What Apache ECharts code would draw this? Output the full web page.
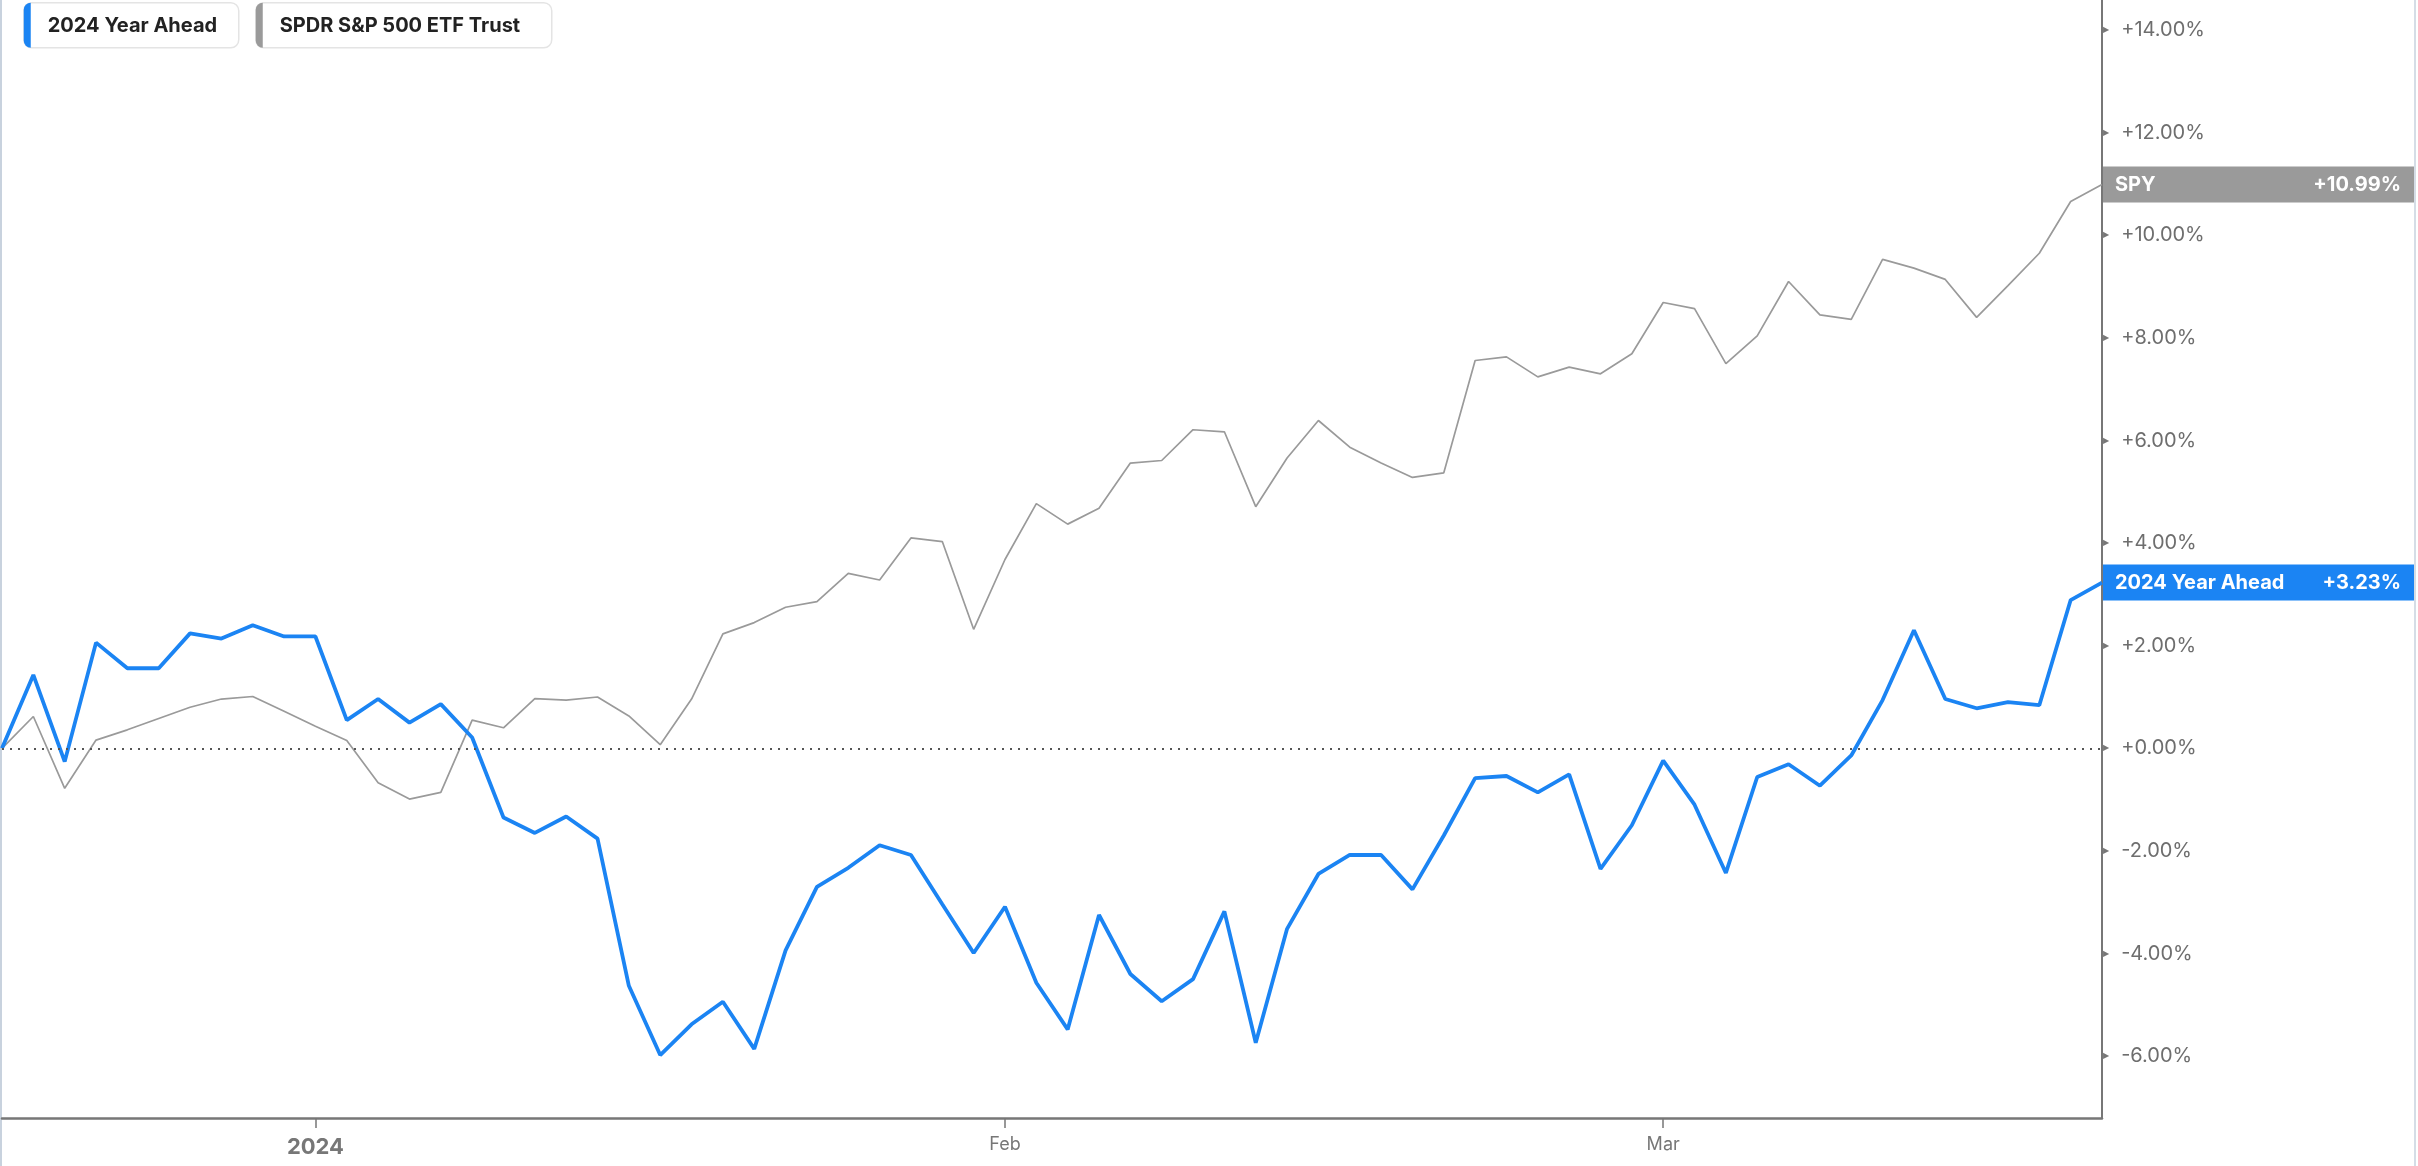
<!DOCTYPE html>
<html>
<head>
<meta charset="utf-8">
<script src="https://cdn.jsdelivr.net/npm/echarts@6/dist/echarts.min.js"></script>
<style>
  html, body { margin: 0; padding: 0; background: #fff; }
  #chart { width: 2418px; height: 1166px; }
</style>
</head>
<body>
<div id="chart"></div>
<script>
// ---- data ----
const dates = [
  '2023-12-18','2023-12-19','2023-12-20','2023-12-21','2023-12-22','2023-12-25','2023-12-26','2023-12-27','2023-12-28','2023-12-29',
  '2024-01-01','2024-01-02','2024-01-03','2024-01-04','2024-01-05','2024-01-08','2024-01-09','2024-01-10','2024-01-11','2024-01-12',
  '2024-01-16','2024-01-17','2024-01-18','2024-01-19','2024-01-22','2024-01-23','2024-01-24','2024-01-25','2024-01-26','2024-01-29',
  '2024-01-30','2024-01-31',
  '2024-02-01','2024-02-02','2024-02-05','2024-02-06','2024-02-07','2024-02-08','2024-02-09','2024-02-12','2024-02-13','2024-02-14',
  '2024-02-15','2024-02-16','2024-02-19','2024-02-20','2024-02-21','2024-02-22','2024-02-23','2024-02-26','2024-02-27','2024-02-28',
  '2024-02-29',
  '2024-03-01','2024-03-04','2024-03-05','2024-03-06','2024-03-07','2024-03-08','2024-03-11','2024-03-12','2024-03-13','2024-03-14',
  '2024-03-15','2024-03-18','2024-03-19','2024-03-20','2024-03-21'
];
const yearAhead = [
  0, 1.43, -0.26, 2.06, 1.56, 1.56, 2.24, 2.14, 2.40, 2.18,
  2.18, 0.55, 0.96, 0.50, 0.86, 0.21, -1.35, -1.65, -1.33, -1.76,
  -4.63, -5.98, -5.38, -4.94, -5.86, -3.94, -2.70, -2.33, -1.89, -2.08,
  -3.04, -3.99, -3.09, -4.57, -5.48, -3.25, -4.40, -4.93, -4.50, -3.18,
  -5.74, -3.52, -2.45, -2.08, -2.08, -2.75, -1.70, -0.58, -0.54, -0.86,
  -0.51, -2.35, -1.50, -0.24, -1.10, -2.43, -0.56, -0.31, -0.73, -0.14,
  0.94, 2.30, 0.96, 0.78, 0.90, 0.84, 2.89, 3.23
];
const spy = [
  0, 0.62, -0.78, 0.16, 0.36, 0.58, 0.80, 0.96, 1.01, 0.72,
  0.43, 0.15, -0.67, -0.99, -0.86, 0.55, 0.40, 0.97, 0.94, 1.00,
  0.63, 0.07, 0.96, 2.23, 2.45, 2.75, 2.86, 3.41, 3.28, 4.10,
  4.03, 2.32, 3.68, 4.77, 4.37, 4.68, 5.56, 5.61, 6.21, 6.17,
  4.71, 5.66, 6.39, 5.87, 5.56, 5.28, 5.37, 7.56, 7.63, 7.24,
  7.43, 7.30, 7.69, 8.69, 8.57, 7.50, 8.04, 9.10, 8.45, 8.36,
  9.53, 9.36, 9.14, 8.40, 9.02, 9.65, 10.66, 10.99
];
const seriesNames = ['2024 Year Ahead', 'SPDR S&P 500 ETF Trust'];
const endTags = ['2024 Year Ahead', 'SPY'];
const tickDates = ['2024-01-01', '2024-02-01', '2024-03-01'];
const tickLabels = ['2024', 'Feb', 'Mar'];
const yTicks = [-6, -4, -2, 0, 2, 4, 6, 8, 10, 12, 14];

// ---- styles ----
const FONT = "Inter, 'Noto Sans', sans-serif";
const BLUE = '#1b84f3';
const GREY = '#9a9a9a';
const AXIS = '#777777';

function pct(v) {
  return (v >= 0 ? '+' : '') + v.toFixed(2) + '%';
}
function isTick(idx, val) {
  return tickDates.indexOf(val) >= 0;
}

function endLabel(tag, color) {
  return {
    show: true,
    distance: 1,
    backgroundColor: color,
    padding: [7, 13, 7, 12],
    width: 286,
    formatter: p => '{n|' + tag + '}{v|' + pct(p.value) + '}',
    rich: {
      n: { color: '#fff', fontWeight: 'bold', fontSize: 20, fontFamily: FONT, lineHeight: 22 },
      v: { color: '#fff', fontWeight: 'bold', fontSize: 20, fontFamily: FONT, lineHeight: 22, align: 'right' }
    }
  };
}

const chart = echarts.init(document.getElementById('chart'), null, { renderer: 'canvas' });

const option = {
  animation: false,
  backgroundColor: '#fff',
  grid: { left: 2, right: 316, top: 0, bottom: 48 },
  xAxis: {
    type: 'category',
    data: dates,
    boundaryGap: false,
    axisLine: { show: true, onZero: false, lineStyle: { color: AXIS, width: 2.5 } },
    axisTick: { show: true, interval: isTick, length: 10, lineStyle: { color: AXIS, width: 1.5 } },
    axisLabel: {
      interval: isTick,
      margin: 18,
      formatter: v => {
        const i = tickDates.indexOf(v);
        if (i < 0) return '';
        return i === 0 ? '{y|' + tickLabels[i] + '}' : '{m|' + tickLabels[i] + '}';
      },
      rich: {
        y: { color: AXIS, fontWeight: 'bold', fontSize: 22, fontFamily: FONT },
        m: { color: AXIS, fontSize: 18, fontFamily: FONT }
      }
    },
    splitLine: { show: false }
  },
  yAxis: {
    type: 'value',
    position: 'right',
    min: -7.207,
    max: 14.587,
    splitLine: { show: false },
    axisLine: { show: true, onZero: false, lineStyle: { color: AXIS, width: 2 } },
    axisTick: { show: false },
    axisLabel: {
      customValues: yTicks,
      margin: 1,
      formatter: v => '{t|▶}{l|' + pct(v) + '}',
      rich: {
        t: { color: AXIS, fontSize: 8, fontFamily: 'DejaVu Sans', padding: [0, 12, 0, 0] },
        l: { color: '#6e6e6e', fontSize: 20, fontFamily: FONT }
      }
    }
  },
  series: [
    {
      name: seriesNames[1],
      type: 'line',
      data: spy,
      showSymbol: false,
      symbol: 'none',
      lineStyle: { color: GREY, width: 1.7 },
      itemStyle: { color: GREY },
      endLabel: endLabel(endTags[1], GREY),
      markLine: {
        silent: true,
        symbol: 'none',
        label: { show: false },
        lineStyle: { color: '#555', width: 2, type: [2, 6] },
        data: [{ yAxis: 0 }]
      },
      z: 2
    },
    {
      name: seriesNames[0],
      type: 'line',
      data: yearAhead,
      showSymbol: false,
      symbol: 'none',
      lineStyle: { color: BLUE, width: 3.8 },
      itemStyle: { color: BLUE },
      endLabel: endLabel(endTags[0], BLUE),
      z: 3
    }
  ],
  graphic: [
    { type: 'line', shape: { x1: 1, y1: 0, x2: 1, y2: 1166 }, style: { stroke: '#c8d2de', lineWidth: 2 }, silent: true },
    { type: 'line', shape: { x1: 2415, y1: 0, x2: 2415, y2: 1166 }, style: { stroke: '#d5dde6', lineWidth: 2 }, silent: true },
    {
      type: 'group', left: 23, top: 2,
      children: [
        { type: 'rect', shape: { x: 0, y: 0, width: 215, height: 45, r: 8 }, style: { fill: '#fff', stroke: '#e4e4e4', lineWidth: 1.5 } },
        { type: 'rect', shape: { x: 0, y: 0, width: 7, height: 45, r: [8, 0, 0, 8] }, style: { fill: BLUE } },
        { type: 'text', x: 24, y: 23, style: { text: seriesNames[0], fill: '#222', font: 'bold 20px ' + FONT, verticalAlign: 'middle' } }
      ]
    },
    {
      type: 'group', left: 255, top: 2,
      children: [
        { type: 'rect', shape: { x: 0, y: 0, width: 296, height: 45, r: 8 }, style: { fill: '#fff', stroke: '#e4e4e4', lineWidth: 1.5 } },
        { type: 'rect', shape: { x: 0, y: 0, width: 7, height: 45, r: [8, 0, 0, 8] }, style: { fill: GREY } },
        { type: 'text', x: 24, y: 23, style: { text: seriesNames[1], fill: '#222', font: 'bold 20px ' + FONT, verticalAlign: 'middle' } }
      ]
    }
  ]
};
chart.setOption(option);
</script>
</body>
</html>
